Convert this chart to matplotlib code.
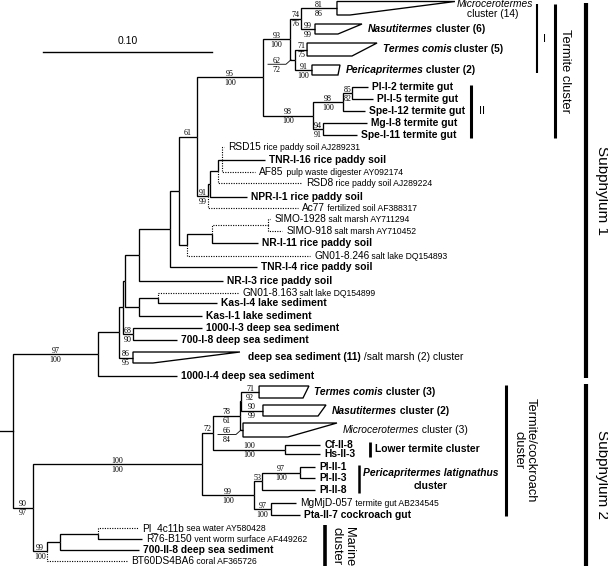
import matplotlib
matplotlib.use("Agg")
import matplotlib.pyplot as plt
from matplotlib.patches import Polygon

# ---------------- tree data ----------------
# internal nodes: parent, distance from root (substitutions/site), bootstrap (NJ/ML)
node_names = ["root", "S1", "S1a", "S1b", "S1c", "S1d", "S1e", "S1f", "S1g",
              "T", "T1", "T1a", "T1b", "T2", "T2a", "T2b", "T2c",
              "R", "Ra", "Rb", "Rc", "E", "Ea", "SIMO", "KK", "KAS", "DSa",
              "S2", "TC", "TCa", "TCb", "TCc", "LT", "Q", "PL", "PLa", "MP",
              "MAR", "MARa", "MARb"]
node_parents = [None, "root", "S1", "S1a", "S1b", "S1c", "S1d", "S1e", "S1f",
                "S1g", "T", "T1", "T1", "T", "T2", "T2a", "T2",
                "S1g", "R", "Ra", "Rb", "S1f", "E", "Ea", "S1c", "KK", "S1b",
                "root", "S2", "TC", "TCa", "TCb", "TCa", "TC", "Q", "PL", "Q",
                "S2", "MAR", "MARa"]
node_depths = [0.0, 0.0503, 0.0627, 0.0651, 0.0663, 0.0746, 0.0929, 0.0982, 0.1089,
               0.1479, 0.1639, 0.1704, 0.1669, 0.1775, 0.1953, 0.2006, 0.1834,
               0.1154, 0.1166, 0.1213, 0.1237, 0.1030, 0.1178, 0.1509, 0.0746, 0.0858, 0.0710,
               0.0118, 0.1118, 0.1183, 0.1343, 0.1349, 0.1609, 0.1426, 0.1473, 0.1698, 0.1527,
               0.0201, 0.0278, 0.0503]
node_support = ["", "97/100", "", "", "", "", "", "", "61",
                "95/100", "93/100", "74/76", "62/72", "98/100", "98/100", "85/82", "94/91",
                "91/99", "", "", "", "", "", "", "", "", "68/90",
                "90/97", "100/100", "72", "78/61", "", "100/100", "99/100", "53", "97/100", "97/100",
                "99/100", "", ""]

# collapsed clades (drawn as wedges)
clade_names = ["Micro14", "Nas6", "Tc5", "Peri2", "DSclade", "Tc3", "Nas2", "Micro3"]
clade_taxa = ["Microcerotermes", "Nasutitermes", "Termes comis", "Pericapritermes",
              "deep sea sediment", "Termes comis", "Nasutitermes", "Microcerotermes"]
clade_sizes = [14, 6, 5, 2, 11, 3, 2, 3]
clade_own_clones = [False, True, True, True, True, True, True, False]
clade_parents = ["T1a", "T1a", "T1b", "T1b", "S1a", "TCc", "TCc", "TCb"]
clade_depth_base = [0.1917, 0.1787, 0.1740, 0.1769, 0.0710, 0.1456, 0.1479, 0.1361]
clade_depth_far = [0.2615, 0.2065, 0.2154, 0.1935, 0.1343, 0.1751, 0.1852, 0.1917]
clade_depth_near = [0.1994, 0.1923, 0.2006, 0.1923, 0.0828, 0.1716, 0.1805, 0.1627]
clade_row_top = [1.5, 24, 43, 65, 352, 386, 405, 423]
clade_row_bottom = [15, 34, 56, 75, 363, 398, 416, 437]
clade_support = ["81/86", "99/99", "71/75", "91/100", "86/95", "71/92", "90/99", "66/84"]

# sequences (tips), top to bottom; accession "" = clone from this study
tip_names = ["PI-I-2", "PI-I-5", "Spe-I-12", "Mg-I-8", "Spe-I-11",
             "RSD15", "TNR-I-16", "AF85", "RSD8", "NPR-I-1", "Ac77",
             "SIMO-1928", "SIMO-918", "NR-I-11", "GN01-8.246", "TNR-I-4", "NR-I-3",
             "GN01-8.163", "Kas-I-4", "Kas-I-1", "1000-I-3", "700-I-8", "1000-I-4",
             "Cf-II-8", "Hs-II-3", "PI-II-1", "PI-II-3", "PI-II-8", "MgMjD-057", "Pta-II-7",
             "PI_4c11b", "R76-B150", "700-II-8", "BT60DS4BA6"]
tip_sources = ["termite gut"] * 5 + [
    "rice paddy soil", "rice paddy soil", "pulp waste digester", "rice paddy soil",
    "rice paddy soil", "fertilized soil", "salt marsh", "salt marsh", "rice paddy soil",
    "salt lake", "rice paddy soil", "rice paddy soil", "salt lake", "lake sediment",
    "lake sediment", "deep sea sediment", "deep sea sediment", "deep sea sediment",
    "", "", "", "", "", "termite gut", "cockroach gut",
    "sea water", "vent worm surface", "deep sea sediment", "coral"]
tip_accessions = ["", "", "", "", "",
                  "AJ289231", "", "AY092174", "AJ289224", "", "AF388317",
                  "AY711294", "AY710452", "", "DQ154893", "", "",
                  "DQ154899", "", "", "", "", "",
                  "", "", "", "", "", "AB234545", "",
                  "AY580428", "AF449262", "", "AF365726"]
tip_parents = ["T2b", "T2b", "T2a", "T2c", "T2c",
               "Rc", "Rc", "Rc", "Rb", "Ra", "R",
               "SIMO", "SIMO", "Ea", "E", "S1e", "S1d",
               "KAS", "KAS", "KK", "DSa", "DSa", "S1",
               "LT", "LT", "PLa", "PLa", "PL", "MP", "MP",
               "MARb", "MARb", "MARa", "MAR"]
tip_depths = [0.2101, 0.2130, 0.2083, 0.2095, 0.2036,
              0.1249, 0.1491, 0.1432, 0.1710, 0.1385, 0.1686,
              0.1521, 0.1592, 0.1450, 0.1757, 0.1444, 0.1243,
              0.1331, 0.1207, 0.1118, 0.1118, 0.0970, 0.0970,
              0.1817, 0.1817, 0.1787, 0.1787, 0.1787, 0.1675, 0.1698,
              0.0740, 0.0763, 0.0746, 0.0675]
tip_rows = [87, 99, 111, 123, 135,
            147, 160, 172, 183, 197, 208,
            219, 231, 243, 256, 267, 281,
            293, 303, 316, 328, 340, 376,
            445, 454, 467, 478, 490, 503, 515,
            528, 539, 550, 561]
tip_dotted = [False] * 5 + [True, False, True, True, False, True,
                            True, True, False, True, False, False,
                            True, False, False, False, False, False] + [False] * 7 + [True, False, False, True]

SCALE_LENGTH = 0.10

# ---------------- figure ----------------
plt.rcParams["font.family"] = ["Liberation Sans", "DejaVu Sans"]
W, H = 608, 566
PX_PER_UNIT = 1690.0          # 0.10 substitutions = 169 px in the picture
fig = plt.figure(figsize=(W / 100, H / 100), dpi=100)
ax = fig.add_axes([0, 0, 1, 1])
ax.set_xlim(-13 / PX_PER_UNIT, (W - 13) / PX_PER_UNIT)
ax.set_ylim(H, 0)
ax.axis("off")
U = 1 / PX_PER_UNIT
LW = 0.95
DOT = (0, (1, 1.2))
SUP = dict(family="Liberation Serif", fontsize=5.8)
STY = {
    "bold": dict(fontsize=7.4, fontweight="bold"),
    "bi": dict(fontsize=7.4, fontweight="bold", fontstyle="italic"),
    "i": dict(fontsize=7.4, fontstyle="italic"),
    "plain": dict(fontsize=7.4),
    "name": dict(fontsize=7.3),
    "desc": dict(fontsize=6.2),
}

parent, depth, ypos, dotted, children = {}, {}, {}, {}, {}
for n, p, d in zip(node_names, node_parents, node_depths):
    parent[n], depth[n] = p, d
for i, n in enumerate(clade_names):
    parent[n], depth[n] = clade_parents[i], clade_depth_base[i]
    ypos[n] = (clade_row_top[i] + clade_row_bottom[i]) / 2
    dotted[n] = False
for i, n in enumerate(tip_names):
    parent[n], depth[n], ypos[n], dotted[n] = tip_parents[i], tip_depths[i], tip_rows[i], tip_dotted[i]
for n, p in parent.items():
    if p is not None:
        children.setdefault(p, []).append(n)


def get_y(n):
    if n not in ypos:
        ys = [get_y(c) for c in children[n]]
        ypos[n] = (min(ys) + max(ys)) / 2
    return ypos[n]


def get_dotted(n):
    if n not in dotted:
        dotted[n] = all([get_dotted(c) for c in children[n]])
    return dotted[n]


for n in node_names:
    get_y(n)
    get_dotted(n)

# branches
for n, p in parent.items():
    if p is None:
        continue
    ax.plot([depth[p], depth[p], depth[n]], [ypos[p], ypos[n], ypos[n]], color="black",
            lw=LW * (0.85 if dotted[n] else 1), ls=DOT if dotted[n] else "-",
            solid_joinstyle="miter", solid_capstyle="butt")
ax.plot([-13 * U, 0], [ypos["root"]] * 2, color="black", lw=LW)

# collapsed clade wedges
for i, n in enumerate(clade_names):
    poly = Polygon([(clade_depth_base[i], clade_row_top[i]), (clade_depth_far[i], clade_row_top[i]),
                    (clade_depth_near[i], clade_row_bottom[i]), (clade_depth_base[i], clade_row_bottom[i])],
                   closed=True, fill=False, ec="black", lw=LW, joinstyle="miter")
    ax.add_patch(poly)


def rich(x, y, parts, dx=3.0, dy=0.0):
    prev = None
    for text, kind in parts:
        if prev is None:
            prev = ax.annotate(text, (x, y), xytext=(dx, dy), textcoords="offset points",
                               ha="left", va="center", **STY[kind])
        else:
            prev = ax.annotate(text, xy=(1, 0), xycoords=prev, ha="left", va="bottom", **STY[kind])
    return prev


# bootstrap values
pointer = {"T1b", "Micro3"}
supports = list(zip(node_names, node_support)) + list(zip(clade_names, clade_support))
for n, s in supports:
    if not s:
        continue
    vals = s.split("/")
    xp, y = depth[parent[n]], ypos[n]
    if n in pointer:
        ax.plot([xp - 22 * U, xp - 4 * U, xp + 1 * U], [y + 4.5, y + 4.5, y], color="black", lw=0.6)
        xc, ly = xp - 13.5 * U, y + 4.5
    else:
        xc, ly = (xp + depth[n]) / 2, y
    ax.annotate(vals[0], (xc, ly), xytext=(0, 0.9), textcoords="offset points",
                ha="center", va="baseline", **SUP)
    if len(vals) > 1:
        ax.annotate(vals[1], (xc, ly), xytext=(0, -1.2), textcoords="offset points",
                    ha="center", va="top", **SUP)

# tip labels
for i, n in enumerate(tip_names):
    if tip_accessions[i]:
        parts = [(n, "name"), (" %s %s" % (tip_sources[i], tip_accessions[i]), "desc")]
    else:
        parts = [((n + " " + tip_sources[i]).strip(), "bold")]
    rich(depth[n], ypos[n], parts)

# clade labels
for i, n in enumerate(clade_names):
    yc = (clade_row_top[i] + clade_row_bottom[i]) / 2
    if n == "DSclade":
        parts = [("%s (%d)" % (clade_taxa[i], clade_sizes[i]), "bold"), (" /salt marsh (2) cluster", "plain")]
        rich(clade_depth_far[i], yc, parts, dx=6)
    elif i == 0:
        t = rich(clade_depth_far[i], clade_row_top[i], [(clade_taxa[i], "i")], dx=1.5, dy=-2.0)
        ax.annotate("cluster (%d)" % clade_sizes[i], xy=(0.47, 0), xycoords=t,
                    ha="center", va="top", **STY["plain"])
    else:
        own = clade_own_clones[i]
        parts = [(clade_taxa[i], "bi" if own else "i"),
                 (" cluster (%d)" % clade_sizes[i], "bold" if own else "plain")]
        rich(clade_depth_far[i], yc, parts, dx=4)

# scale bar
sx = 30 * U
ax.plot([sx, sx + SCALE_LENGTH], [52, 52], color="black", lw=1.0)
ax.annotate("%.2f" % SCALE_LENGTH, (sx + SCALE_LENGTH / 2, 52), xytext=(0, 4),
            textcoords="offset points", ha="center", va="bottom", fontsize=7.5)

# group brackets
tr = ax.get_yaxis_transform()
brackets = [(537, 4, 73, 1.5), (555, 4, 138, 2.2), (471, 85, 138, 2.2),
            (586, 3, 378, 3.0), (586, 384, 566, 3.0), (506, 385, 516, 2.2),
            (370, 442, 457, 2.0), (359, 465, 493, 1.8), (325, 525, 566, 2.6)]
for x, y0, y1, lw in brackets:
    ax.plot([x / W, x / W], [y0, y1], color="black", lw=lw, transform=tr, solid_capstyle="butt")

ax.text(544 / W, 39, "I", transform=tr, ha="center", va="center", fontsize=8)
ax.text(482 / W, 111, "II", transform=tr, ha="center", va="center", fontsize=8)
ax.text(565 / W, 71, "Termite cluster", transform=tr, rotation=270, ha="center", va="center", fontsize=9.3)
ax.text(602 / W, 190, "Subphylum 1", transform=tr, rotation=270, ha="center", va="center", fontsize=11)
ax.text(602 / W, 475, "Subphylum 2", transform=tr, rotation=270, ha="center", va="center", fontsize=11)
ax.text(525 / W, 450, "Termite/cockroach\ncluster", transform=tr, rotation=270, ha="center",
        va="center", multialignment="center", fontsize=9.3, linespacing=1.0)
ax.text(343 / W, 527, "Marine\ncluster", transform=tr, rotation=270, ha="center",
        va="top", multialignment="left", fontsize=9.3, linespacing=1.0)
ax.text(375 / W, 449, "Lower termite cluster", transform=tr, ha="left", va="center", **STY["bold"])
ax.text(431 / W, 473, "Pericapritermes latignathus", transform=tr, ha="center", va="center", **STY["bi"])
ax.text(431 / W, 486, "cluster", transform=tr, ha="center", va="center", **STY["bold"])

fig.savefig("out.png", dpi=100)
